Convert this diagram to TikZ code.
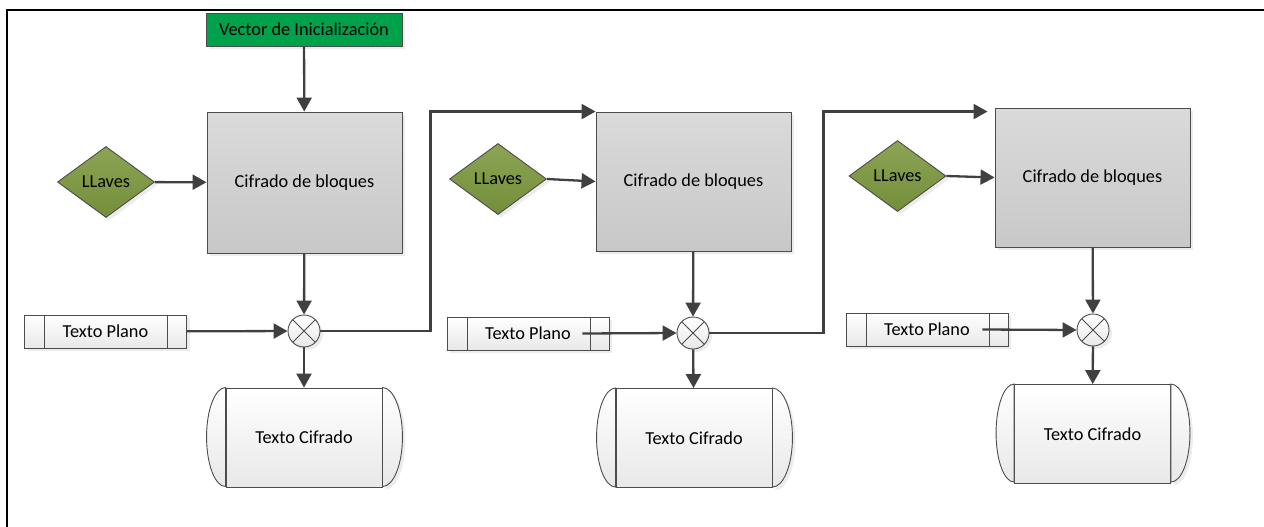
\documentclass[tikz,border=0pt]{standalone}
\usepackage{fontspec}
\setmainfont{Carlito}
\usetikzlibrary{positioning,arrows.meta,shapes.geometric,shadows}
\definecolor{flowgray}{HTML}{404040}
\definecolor{ivgreen}{HTML}{00A14B}
\definecolor{boxtop}{HTML}{DADADA}
\definecolor{boxbot}{HTML}{C8C8C8}
\definecolor{keytop}{HTML}{8CA454}
\definecolor{keybot}{HTML}{748E3A}
\definecolor{litebot}{HTML}{E8E8E8}

\begin{document}
\begin{tikzpicture}[x=1pt,y=-1pt,>={Triangle[length=14pt,width=15pt]},
  font=\fontsize{18.3}{22}\selectfont,
  flowline/.style={draw=flowgray,line width=2.3pt},
  thinline/.style={draw=black!70,line width=0.9pt},
  softshadow/.style={drop shadow={shadow xshift=3pt,shadow yshift=-3pt,opacity=.15}},
  ivbox/.style={thinline,fill=ivgreen,minimum width=196pt,minimum height=33pt,inner sep=0pt,softshadow},
  blockbox/.style={thinline,top color=boxtop,bottom color=boxbot,minimum width=195pt,inner sep=0pt,softshadow},
  keynode/.style={diamond,thinline,top color=keytop,bottom color=keybot,minimum width=97pt,minimum height=71pt,inner sep=0pt,softshadow},
  plainbox/.style={thinline,top color=white,bottom color=litebot,minimum width=162pt,minimum height=33pt,inner sep=0pt,softshadow,
    path picture={\draw[thinline] ([xshift=20pt]path picture bounding box.north west) -- ([xshift=20pt]path picture bounding box.south west)
      ([xshift=-19pt]path picture bounding box.north east) -- ([xshift=-19pt]path picture bounding box.south east);}},
  xornode/.style={circle,thinline,top color=white,bottom color=litebot,minimum size=32pt,inner sep=0pt,softshadow,
    path picture={\draw[thinline] (path picture bounding box.north west) -- (path picture bounding box.south east)
      (path picture bounding box.north east) -- (path picture bounding box.south west);}},
  cipherbox/.style={thinline,top color=white,bottom color=litebot,minimum width=156pt,minimum height=99pt,inner sep=0pt}]
\useasboundingbox (0,0) rectangle (1264,527);
\draw[line width=2.8pt] (7,527) -- (7,10) -- (1264,10);

\node[ivbox] (iv) at (304,29.5) {Vector de Inicialización};
\node[blockbox,minimum height=141pt] (cb1) at (304.5,182.5) {Cifrado de bloques};
\node[keynode] (ll1) at (106,182) {LLaves};
\node[xornode] (xo1) at (304,331) {};
\node[plainbox] (tp1) at (105.5,331.5) {Texto Plano};
\node[cipherbox] (tc1) at (304,437.5) {Texto Cifrado};

\node[blockbox,minimum height=139pt] (cb2) at (693.5,181.5) {Cifrado de bloques};
\node[keynode] (ll2) at (498,179) {LLaves};
\node[xornode] (xo2) at (693,333) {};
\node[plainbox] (tp2) at (528,333.5) {Texto Plano};
\node[cipherbox] (tc2) at (694,438) {Texto Cifrado};

\node[blockbox,minimum height=139pt] (cb3) at (1092.5,177.5) {Cifrado de bloques};
\node[keynode] (ll3) at (897.5,176) {LLaves};
\node[xornode] (xo3) at (1093,330) {};
\node[plainbox] (tp3) at (927,329.5) {Texto Plano};
\node[cipherbox] (tc3) at (1092.5,434) {Texto Cifrado};

\draw[thinline,top color=white,bottom color=litebot] (tc1.north west) arc[start angle=90,end angle=270,x radius=19pt,y radius=49.5pt] -- cycle;
\draw[thinline,top color=white,bottom color=litebot,softshadow] (tc1.north east) arc[start angle=90,end angle=-90,x radius=20pt,y radius=49.5pt] -- cycle;
\draw[thinline,top color=white,bottom color=litebot] (tc2.north west) arc[start angle=90,end angle=270,x radius=19pt,y radius=49.5pt] -- cycle;
\draw[thinline,top color=white,bottom color=litebot,softshadow] (tc2.north east) arc[start angle=90,end angle=-90,x radius=20pt,y radius=49.5pt] -- cycle;
\draw[thinline,top color=white,bottom color=litebot] (tc3.north west) arc[start angle=90,end angle=270,x radius=18pt,y radius=49pt] -- cycle;
\draw[thinline,top color=white,bottom color=litebot,softshadow] (tc3.north east) arc[start angle=90,end angle=-90,x radius=19pt,y radius=49pt] -- cycle;

\draw[flowline,->] (iv) -- (cb1);
\draw[flowline,->] (ll1) -- (cb1);
\draw[flowline,->] (cb1) -- (xo1);
\draw[flowline,->] (tp1) -- (xo1);
\draw[flowline,->] (xo1) -- (tc1);
\draw[flowline,->] (xo1.east) -- ++(110,0) |- (cb2.north west);

\draw[flowline,->] (ll2.east) -- (cb2.west);
\draw[flowline,->] (cb2) -- (xo2);
\draw[flowline,->] ([xshift=-27pt]tp2.east) -- (xo2.west);
\draw[flowline,->] (xo2) -- (tc2);
\draw[flowline,->] (xo2.east) -- ++(114,0) |- ([xshift=-7pt,yshift=-4pt]cb3.north west);

\draw[flowline,->] (ll3.east) -- (cb3.west);
\draw[flowline,->] (cb3) -- (xo3);
\draw[flowline,->] ([xshift=-26pt]tp3.east) -- (xo3.west);
\draw[flowline,->] (xo3) -- (tc3);
\end{tikzpicture}
\end{document}
